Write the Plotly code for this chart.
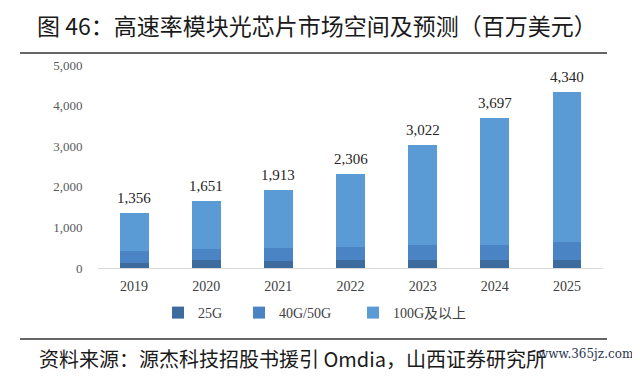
import plotly.graph_objects as go

years = ["2019", "2020", "2021", "2022", "2023", "2024", "2025"]
v25g = [120, 195, 180, 190, 200, 200, 200]
v40g = [295, 275, 310, 330, 355, 360, 450]
v100g = [941, 1181, 1423, 1786, 2467, 3137, 3690]
totals = [1356, 1651, 1913, 2306, 3022, 3697, 4340]
series_names = ["25G", "40G/50G", "100G及以上"]
colors = ["#3d6b9e", "#4a84c4", "#5b9bd5"]

W, H = 640, 376
OFF = 8  # page body margin
# target screenshot pixels of plot area: x 98..603, y 65..268
L = 98 - OFF
T = 65 - OFF
R = W - (603 - OFF)
B = H - (268 - OFF)
pw, ph = W - L - R, H - T - B

def px(x):
    return (x - OFF - L) / pw

def py(y):
    return (H - B - (y - OFF)) / ph

SERIF = "Liberation Serif, Noto Sans CJK SC, serif"
CJK = "Noto Sans CJK SC, Liberation Serif, sans-serif"

legend_ids = ["legend", "legend2", "legend3"]
legend_x = [158, 239, 353]

fig = go.Figure()
for name, vals, c, lid in zip(series_names, [v25g, v40g, v100g], colors, legend_ids):
    fig.add_trace(go.Bar(x=years, y=vals, name=name, legend=lid, width=0.4,
                         marker=dict(color=c, line=dict(width=0))))

for i, t in enumerate(totals):
    fig.add_annotation(x=i, y=t, xref="x", yref="y", text=f"{t:,}", showarrow=False,
                       yanchor="bottom", yshift=5,
                       font=dict(family=SERIF, size=15, color="#262626"))

leg_common = dict(orientation="h", y=py(313), xanchor="left", yanchor="middle",
                  font=dict(family=SERIF, size=14, color="#404040"),
                  itemwidth=30, bgcolor="rgba(0,0,0,0)")

fig.update_layout(
    width=W, height=H,
    margin=dict(l=L, r=R, t=T, b=B),
    paper_bgcolor="white", plot_bgcolor="white",
    barmode="stack",
    showlegend=True,
    legend=dict(x=px(legend_x[0]), **leg_common),
    legend2=dict(x=px(legend_x[1]), **leg_common),
    legend3=dict(x=px(legend_x[2]), **leg_common),
    title=dict(text="图 46：高速率模块光芯片市场空间及预测（百万美元）", xref="container", yref="container",
               x=(37 - OFF) / W, y=1 - (27 - OFF) / H, xanchor="left", yanchor="middle",
               font=dict(family=CJK, size=23, color="#1a1a1a")),
    shapes=[
        dict(type="line", xref="paper", yref="paper", x0=px(20), x1=px(607), y0=py(53), y1=py(53),
             line=dict(color="#333333", width=1.5)),
        dict(type="line", xref="paper", yref="paper", x0=px(20), x1=px(607), y0=py(339), y1=py(339),
             line=dict(color="#333333", width=1.5)),
    ],
)
fig.update_xaxes(type="category", categoryorder="array", categoryarray=years, range=[-0.5, 6.5],
                 showline=True, linecolor="#d9d9d9", linewidth=1, ticks="outside", ticklen=5,
                 tickcolor="rgba(0,0,0,0)", showgrid=False,
                 tickfont=dict(family=SERIF, size=14, color="#404040"))
fig.update_yaxes(range=[0, 5000], tickvals=[0, 1000, 2000, 3000, 4000, 5000], tickformat=",",
                 showgrid=False, zeroline=False, showline=False, ticks="outside", ticklen=12,
                 tickcolor="rgba(0,0,0,0)",
                 tickfont=dict(family=SERIF, size=13, color="#595959"))

fig.add_annotation(xref="paper", yref="paper", x=px(37), y=py(358), xanchor="left", yanchor="middle",
                   text="资料来源：源杰科技招股书援引 Omdia，山西证券研究所", showarrow=False,
                   font=dict(family=CJK, size=20, color="#1a1a1a"))
fig.add_annotation(xref="paper", yref="paper", x=px(636), y=py(354), xanchor="right", yanchor="middle",
                   text="www.365jz.com", showarrow=False,
                   font=dict(family="DejaVu Serif, serif", size=12, color="#2a3550"))

fig.write_html("out.html")
